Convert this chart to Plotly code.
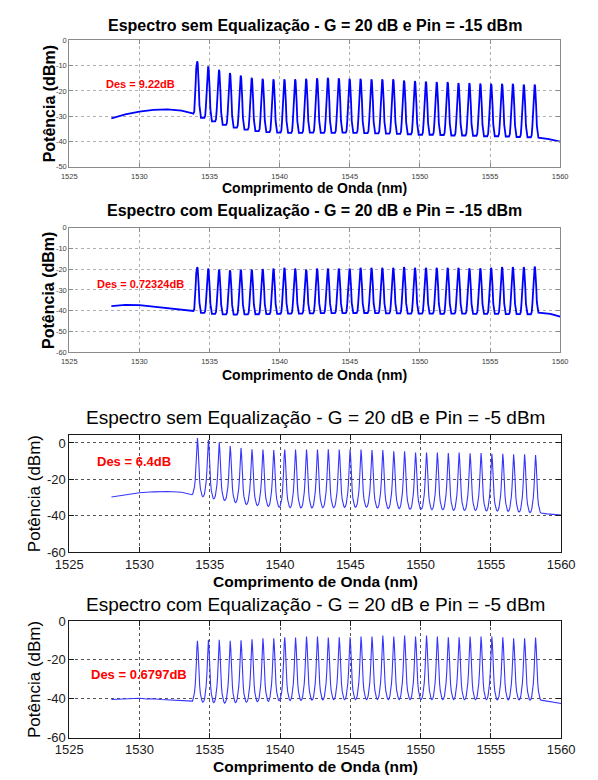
import plotly.graph_objects as go

W, H = 598, 780
FONT = "Arial, Liberation Sans, sans-serif"

# ---------------- data ----------------
channels = [1534.12, 1534.90, 1535.67, 1536.45, 1537.22, 1538.00, 1538.78, 1539.55,
            1540.33, 1541.10, 1541.88, 1542.66, 1543.43, 1544.21, 1544.98, 1545.76,
            1546.54, 1547.31, 1548.09, 1548.86, 1549.64, 1550.42, 1551.19, 1551.97,
            1552.74, 1553.52, 1554.30, 1555.07, 1555.85, 1556.62, 1557.40, 1558.18]

# Panel 1: sem equalizacao, Pin = -15 dBm
p1_ase_x = [1528.0, 1529.0, 1530.0, 1531.0, 1532.0, 1533.0, 1533.8]
p1_ase_y = [-30.8, -29.3, -28.2, -27.5, -27.3, -27.8, -28.9]
p1_peaks = [-8.3, -10.3, -11.6, -12.9, -13.9, -14.8, -15.2, -15.4, -15.4, -15.4, -15.2,
            -15.0, -14.8, -15.0, -15.2, -15.2, -15.4, -15.4, -15.4, -15.9, -16.1, -16.3,
            -16.5, -16.5, -16.9, -16.9, -17.1, -17.2, -17.2, -17.2, -17.5, -17.5]
p1_gaps = [-29.0, -30.6, -32.0, -33.4, -34.5, -35.3, -35.9, -36.3, -36.5, -36.6, -36.6,
           -36.5, -36.6, -36.6, -36.5, -36.6, -36.7, -36.8, -36.9, -37.0, -37.1, -37.3,
           -37.3, -37.4, -37.6, -37.6, -37.7, -37.9, -37.9, -38.0, -38.2, -38.3, -38.5]
p1_tail_x = [1559.2, 1560.0]
p1_tail_y = [-39.0, -40.0]

# Panel 2: com equalizacao, Pin = -15 dBm
p2_ase_x = [1528.0, 1529.0, 1530.0, 1531.0, 1532.0, 1533.0, 1533.8]
p2_ase_y = [-37.8, -37.2, -37.3, -38.0, -38.8, -39.4, -40.0]
p2_peaks = [-19.0, -19.7, -20.2, -20.5, -20.2, -20.2, -19.9, -19.7, -19.3, -19.7, -20.2,
            -19.7, -19.7, -19.7, -19.7, -19.3, -19.3, -19.3, -19.3, -19.0, -19.3, -19.3,
            -19.3, -19.3, -19.3, -19.6, -19.6, -19.3, -19.0, -19.0, -19.0, -18.7]
p2_gaps = [-40.1, -41.0, -41.5, -41.8, -41.9, -41.8, -41.7, -41.6, -41.5, -41.4, -41.4,
           -41.3, -41.2, -41.2, -41.2, -41.1, -41.1, -41.2, -41.3, -41.3, -41.4, -41.4,
           -41.4, -41.5, -41.4, -41.4, -41.5, -41.5, -41.5, -41.6, -41.6, -41.7, -40.9]
p2_tail_x = [1559.3, 1560.0]
p2_tail_y = [-41.5, -42.9]

# Panel 3: sem equalizacao, Pin = -5 dBm
p3_ase_x = [1528.0, 1529.0, 1530.0, 1531.0, 1532.0, 1533.0, 1533.7]
p3_ase_y = [-29.6, -28.3, -27.3, -26.8, -26.6, -27.0, -28.0]
p3_peaks = [2.7, 1.8, 0.2, -1.6, -2.7, -3.4, -3.6, -3.9, -3.6, -3.6, -3.6, -3.6, -3.4,
            -3.6, -3.6, -3.6, -3.9, -3.9, -4.5, -4.5, -5.2, -5.2, -5.2, -5.5, -5.2, -5.7,
            -5.5, -5.9, -5.9, -6.25, -6.25, -6.6]
p3_gaps = [-28.4, -29.5, -30.7, -31.6, -32.7, -33.8, -34.3, -34.8, -35.2, -35.5, -35.6,
           -35.6, -35.5, -35.5, -35.3, -35.3, -35.2, -35.7, -36.0, -36.0, -36.4, -36.4,
           -36.6, -36.6, -37.0, -37.0, -37.0, -37.3, -37.3, -37.5, -37.9, -38.2, -38.4]
p3_tail_x = [1559.0, 1560.0]
p3_tail_y = [-38.9, -39.6]

# Panel 4: com equalizacao, Pin = -5 dBm
p4_ase_x = [1528.0, 1528.5, 1529.0, 1529.5, 1530.0, 1530.5, 1531.0, 1531.5, 1532.0,
            1532.5, 1533.0, 1533.5, 1533.8]
p4_ase_y = [-40.4, -40.2, -40.3, -39.9, -39.7, -40.1, -40.0, -40.4, -40.5, -40.8,
            -40.9, -41.1, -41.2]
p4_peaks = [-10.2, -9.7, -9.7, -10.2, -9.9, -9.4, -8.9, -8.9, -8.4, -8.5, -8.0, -8.0,
            -8.5, -8.4, -8.4, -8.0, -8.0, -7.5, -8.0, -7.5, -8.0, -7.5, -8.0, -8.4, -8.4,
            -8.0, -8.0, -8.0, -8.4, -8.9, -8.9, -8.5]
p4_gaps = [-41.2, -41.8, -42.0, -42.2, -42.0, -41.8, -41.5, -41.3, -41.0, -40.9, -40.8,
           -40.7, -40.6, -40.5, -40.5, -40.4, -40.4, -40.4, -40.4, -40.4, -40.4, -40.4,
           -40.5, -40.4, -40.4, -40.5, -40.5, -40.5, -40.6, -40.6, -40.6, -40.7, -40.7]
p4_tail_x = [1559.2, 1560.0]
p4_tail_y = [-41.3, -42.4]

titles = ["Espectro sem Equalização - G = 20 dB e Pin = -15 dBm",
          "Espectro com Equalização - G = 20 dB e Pin = -15 dBm",
          "Espectro sem Equalização - G = 20 dB e Pin = -5 dBm",
          "Espectro com Equalização - G = 20 dB e Pin = -5 dBm"]
des_labels = ["Des = 9.22dB", "Des = 0.72324dB", "Des = 6.4dB", "Des = 0.6797dB"]
des_pos = [(1527.5, -17.4), (1526.8, -26.9), (1526.8, -10.3), (1526.4, -27.3)]
xlabel = "Comprimento de Onda (nm)"
ylabel = "Potência (dBm)"
x_ticks = [1525, 1530, 1535, 1540, 1545, 1550, 1555, 1560]
y_ticks_1 = [-50, -40, -30, -20, -10, 0]
y_ticks_2 = [-60, -50, -40, -30, -20, -10, 0]
y_ticks_34 = [-60, -40, -20, 0]

# ---------------- peak line shape (style) ----------------
narrow_dx = [0.27, 0.21, 0.16, 0.11, 0.07, 0.035, 0.0]
narrow_f = [0.0, 0.04, 0.22, 0.58, 0.86, 0.97, 1.0]
wide_dx = [0.385, 0.33, 0.27, 0.21, 0.16, 0.115, 0.075, 0.04, 0.0]
wide_f = [0.0, 0.015, 0.06, 0.14, 0.26, 0.42, 0.64, 0.88, 1.0]


def spectrum(ase_x, ase_y, peaks, gaps, tail_x, tail_y, dxs, fs):
    xs, ys = list(ase_x), list(ase_y)
    for i, c in enumerate(channels):
        lo, hi, pk = gaps[i], gaps[i + 1], peaks[i]
        for dx, f in zip(dxs, fs):
            xs.append(c - dx)
            ys.append(lo + f * (pk - lo))
        for dx, f in zip(reversed(dxs[:-1]), reversed(fs[:-1])):
            xs.append(c + dx)
            ys.append(hi + f * (pk - hi))
    xs += tail_x
    ys += tail_y
    return xs, ys


panels = [
    (p1_ase_x, p1_ase_y, p1_peaks, p1_gaps, p1_tail_x, p1_tail_y, narrow_dx, narrow_f),
    (p2_ase_x, p2_ase_y, p2_peaks, p2_gaps, p2_tail_x, p2_tail_y, narrow_dx, narrow_f),
    (p3_ase_x, p3_ase_y, p3_peaks, p3_gaps, p3_tail_x, p3_tail_y, wide_dx, wide_f),
    (p4_ase_x, p4_ase_y, p4_peaks, p4_gaps, p4_tail_x, p4_tail_y, wide_dx, wide_f),
]

# pixel layout of each plotting box: (left, right, top, bottom)
boxes = [(58, 573, 34, 163), (58, 573, 225, 352), (58, 574, 436, 556), (58, 574, 626, 745)]
yranges = [[-50, 0], [-60, 0], [-60, 4.6], [-60, 0]]
yticks = [y_ticks_1, y_ticks_2, y_ticks_34, y_ticks_34]
title_y = [18.5, 208, 419, 609]
xlab_y = [185, 375, 586, 774]
ylab_x = [37.5, 36.7, 21.7, 21.7]

fig = go.Figure()
annotations = []
layout = {}

for k in range(4):
    n = "" if k == 0 else str(k + 1)
    xs, ys = spectrum(*panels[k])
    small = k < 2
    fig.add_trace(go.Scatter(
        x=xs, y=ys, mode="lines", xaxis="x" + n, yaxis="y" + n,
        line=dict(color="#0000ff" if small else "#3535ff", width=1.8 if small else 1.1),
        showlegend=False, hoverinfo="skip"))

    L, R, T, B = boxes[k]
    frame = "#8a8a8a" if small else "#1a1a1a"
    grid = "#b0b0b0" if small else "#555555"
    tickfont = dict(family=FONT, size=7.5 if small else 13, color="#404040" if small else "#1a1a1a")
    common = dict(showline=True, linecolor=frame, linewidth=1, mirror="ticks",
                  ticks="inside", ticklen=4 if small else 5, tickcolor=frame,
                  showgrid=True, gridcolor=grid, griddash="dot", gridwidth=1,
                  zeroline=False, tickfont=tickfont, fixedrange=True)
    layout["xaxis" + n] = dict(domain=[L / W, R / W], anchor="y" + n, range=[1525, 1560],
                               tickvals=x_ticks, ticktext=[str(v) for v in x_ticks],
                               ticklabelstandoff=2 if small else 0, **common)
    layout["yaxis" + n] = dict(domain=[1 - B / H, 1 - T / H], anchor="x" + n, range=yranges[k],
                               tickvals=yticks[k], ticktext=[str(v) for v in yticks[k]], **common)

    cx = (L + R) / 2 / W
    ttl = ("<b>" + titles[k] + "</b>") if small else titles[k]
    annotations.append(dict(
        text=ttl, xref="paper", yref="paper", x=cx, y=1 - title_y[k] / H,
        xanchor="center", yanchor="middle", showarrow=False,
        font=dict(family=FONT, size=16 if small else 19, color="#000000")))
    annotations.append(dict(
        text="<b>" + xlabel + "</b>", xref="paper", yref="paper", x=cx, y=1 - xlab_y[k] / H,
        xanchor="center", yanchor="middle", showarrow=False,
        font=dict(family=FONT, size=14 if small else 15.5, color="#000000")))
    annotations.append(dict(
        text=("<b>" + ylabel + "</b>") if small else ylabel, xref="paper", yref="paper",
        x=ylab_x[k] / W, y=1 - (T + B) / 2 / H, textangle=-90,
        xanchor="center", yanchor="middle", showarrow=False,
        font=dict(family=FONT, size=16 if small else 17, color="#000000")))
    dx0, dy0 = des_pos[k]
    annotations.append(dict(
        text="<b>" + des_labels[k] + "</b>", xref="x" + n, yref="y" + n, x=dx0, y=dy0,
        xanchor="left", yanchor="middle", showarrow=False,
        font=dict(family=FONT, size=11 if small else 13, color="#ff0000")))

fig.update_layout(
    width=W, height=H, margin=dict(l=0, r=0, t=0, b=0),
    paper_bgcolor="white", plot_bgcolor="white",
    annotations=annotations, **layout)

fig.write_html("out.html", config={"displayModeBar": False})
